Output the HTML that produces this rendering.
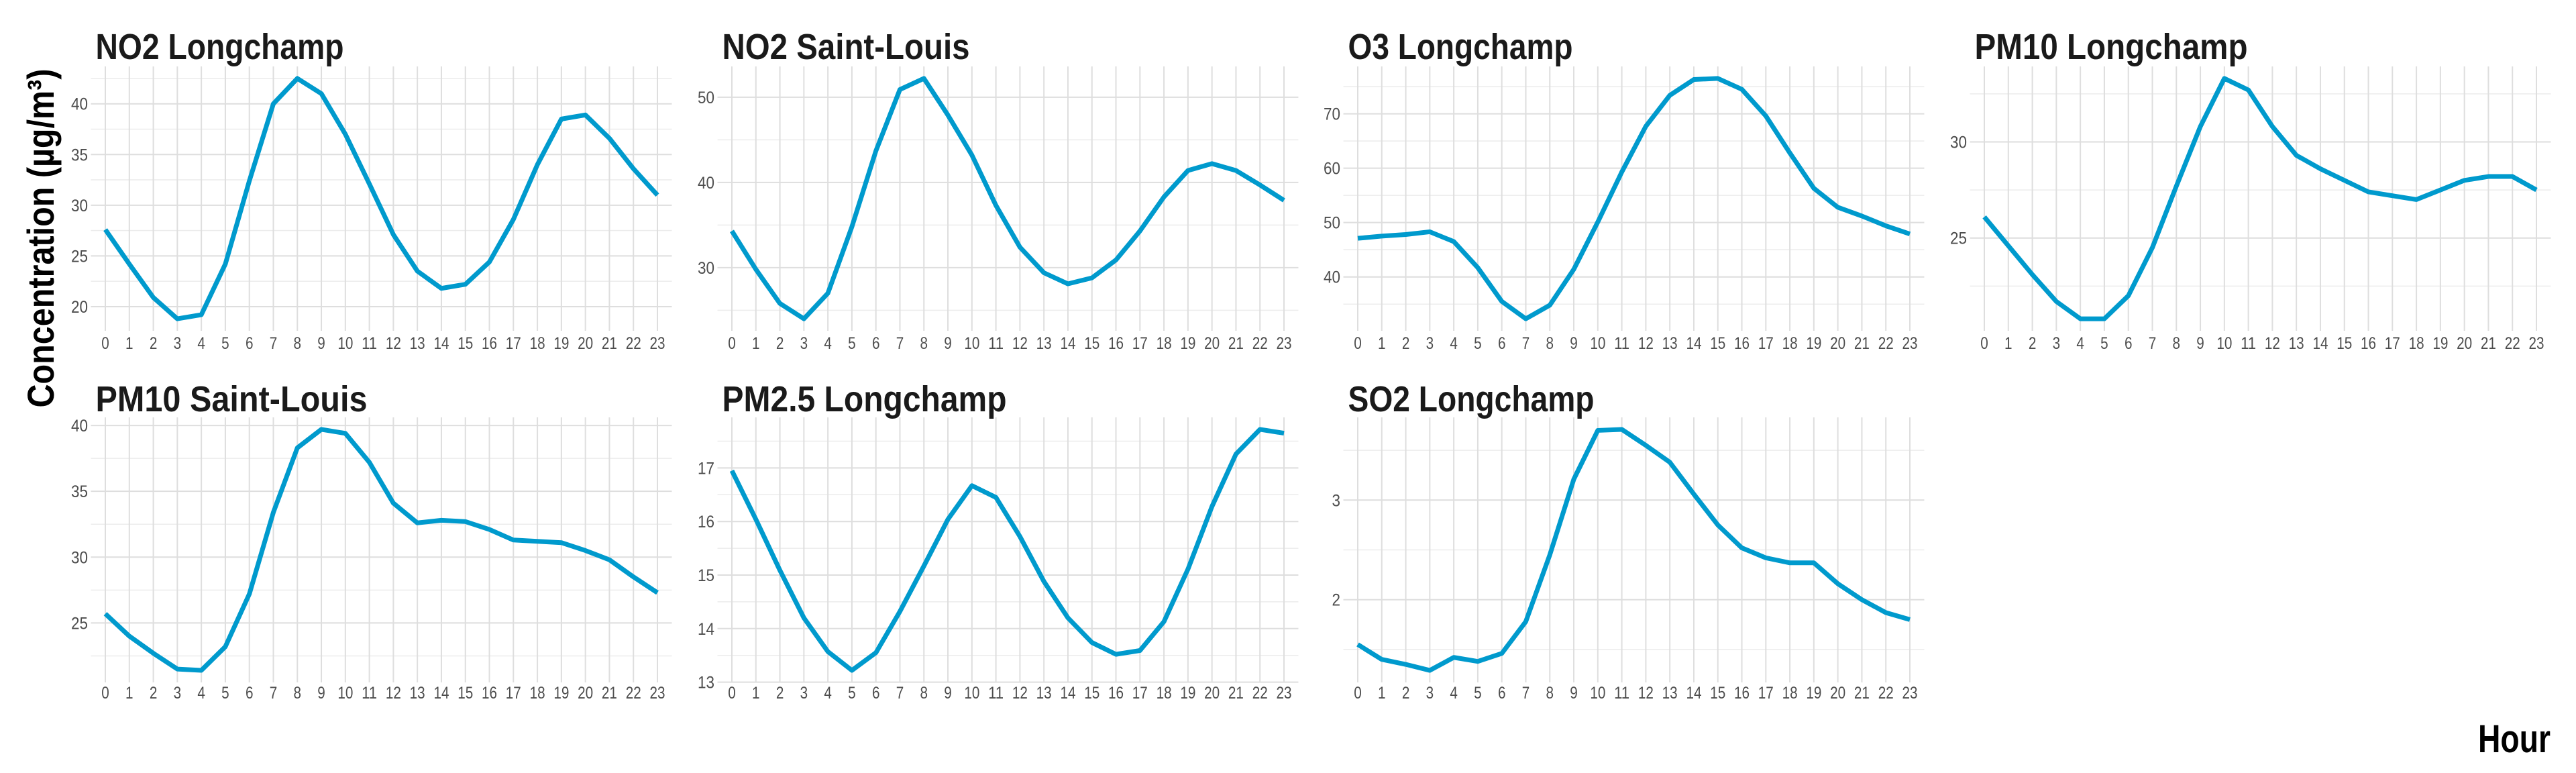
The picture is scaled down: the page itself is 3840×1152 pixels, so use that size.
<!DOCTYPE html>
<html><head><meta charset="utf-8"><style>
html,body{margin:0;padding:0;background:#fff;width:3840px;height:1152px;overflow:hidden}
svg text{font-family:"Liberation Sans Narrow","Liberation Sans",sans-serif}
</style></head><body>
<svg id="chart" width="3840" height="1152" viewBox="0 0 3840 1152" xmlns="http://www.w3.org/2000/svg">
<text transform="translate(80,355) rotate(-90)" text-anchor="middle" font-size="56" font-weight="bold" textLength="505" lengthAdjust="spacingAndGlyphs" fill="#000" style="font-family:'Liberation Sans',sans-serif">Concentration (µg/m³)</text>
<text x="3694" y="1121" font-size="58" font-weight="bold" textLength="108" lengthAdjust="spacingAndGlyphs" fill="#000">Hour</text>
</svg>
<script>
const hours = [0,1,2,3,4,5,6,7,8,9,10,11,12,13,14,15,16,17,18,19,20,21,22,23];
const no2Longchamp = [27.6,24.2,20.9,18.8,19.2,24.2,32.4,40.0,42.5,41.0,37.0,32.1,27.1,23.5,21.8,22.2,24.4,28.6,34.0,38.5,38.9,36.6,33.6,31.0];
const no2SaintLouis = [34.3,29.8,25.8,24.0,27.0,34.8,43.7,50.9,52.2,47.9,43.2,37.3,32.4,29.4,28.1,28.8,30.9,34.3,38.3,41.4,42.2,41.4,39.7,37.9];
const o3Longchamp = [47.1,47.5,47.8,48.3,46.5,41.7,35.5,32.3,34.8,41.4,50.1,59.3,67.7,73.4,76.3,76.5,74.5,69.6,62.8,56.3,52.8,51.2,49.4,47.9];
const pm10Longchamp = [26.1,24.6,23.1,21.7,20.8,20.8,22.0,24.5,27.7,30.8,33.3,32.7,30.8,29.3,28.6,28.0,27.4,27.2,27.0,27.5,28.0,28.2,28.2,27.5];
const pm10SaintLouis = [25.7,24.0,22.7,21.5,21.4,23.2,27.2,33.4,38.3,39.7,39.4,37.2,34.1,32.6,32.8,32.7,32.1,31.3,31.2,31.1,30.5,29.8,28.5,27.3];
const pm25Longchamp = [16.95,16.04,15.09,14.2,13.57,13.22,13.55,14.32,15.17,16.04,16.67,16.45,15.72,14.88,14.2,13.74,13.52,13.59,14.13,15.11,16.28,17.26,17.72,17.65];
const so2Longchamp = [1.55,1.40,1.35,1.29,1.42,1.38,1.46,1.78,2.45,3.21,3.70,3.71,3.55,3.38,3.06,2.75,2.52,2.42,2.37,2.37,2.16,2.0,1.87,1.80];
const titles = ["NO2 Longchamp","NO2 Saint-Louis","O3 Longchamp","PM10 Longchamp","PM10 Saint-Louis","PM2.5 Longchamp","SO2 Longchamp"];
const seriesList = [no2Longchamp,no2SaintLouis,o3Longchamp,pm10Longchamp,pm10SaintLouis,pm25Longchamp,so2Longchamp];
const tickSteps = [5,10,10,5,5,1,1];

const NS="http://www.w3.org/2000/svg";
const svg=document.getElementById('chart');
const x0s=[157,1091,2024,2958];
const titleW=[370,369,335,407,405,424,367];
const W=823, step=W/23;
function mk(tag,attrs,parent){const e=document.createElementNS(NS,tag);for(const k in attrs)e.setAttribute(k,attrs[k]);parent.appendChild(e);return e;}

seriesList.forEach((vals,i)=>{
  const col=i%4,row=Math.floor(i/4);
  const X0=x0s[col];
  const top=row?622:99, bot=row?1017:493;
  const g=mk('g',{},svg);
  
  
  const mn=Math.min(...vals),mx=Math.max(...vals),r=mx-mn;
  const lo=mn-0.05*r,hi=mx+0.05*r;
  const sx=h=>X0+h*step;
  const sy=v=>bot-(v-lo)/(hi-lo)*(bot-top);
  const left=X0-0.6*step,right=X0+23.6*step;
  const ts=tickSteps[i];
  for(let v=Math.floor(lo/ts)*ts-ts/2; v<=hi; v+=ts){
    if(v<lo) continue;
    const l=mk('line',{x1:left,x2:right,y1:sy(v),y2:sy(v),stroke:'#ececec','stroke-width':1.5},g);
    
    
  }
  hours.forEach(h=>{
    const l=mk('line',{x1:sx(h),x2:sx(h),y1:top,y2:bot,stroke:'#dedede','stroke-width':2},g);
    
    
    const s=String(h);
    const t=mk('text',{x:sx(h),y:(row?1041:520),'text-anchor':'middle','font-size':25,fill:'#4d4d4d',textLength:s.length*11.5,lengthAdjust:'spacingAndGlyphs'},g);
    t.textContent=s;
    
    
  });
  for(let v=Math.ceil(lo/ts)*ts; v<=hi; v+=ts){
    const l=mk('line',{x1:left,x2:right,y1:sy(v),y2:sy(v),stroke:'#dedede','stroke-width':2},g);
    
    
    const s=String(v);
    const t=mk('text',{x:X0-26,y:sy(v)+9,'text-anchor':'end','font-size':25,fill:'#4d4d4d',textLength:s.length*12.5,lengthAdjust:'spacingAndGlyphs'},g);
    t.textContent=s;
    
    
  }
  const p=mk('polyline',{points:vals.map((v,h)=>sx(hours[h])+','+sy(v)).join(' '),fill:'none',stroke:'#009ACD','stroke-width':7,'stroke-linejoin':'round'},g);
  
  
  const t=mk('text',{x:left+7,y:(row?613:88),'font-size':54,'font-weight':'bold',fill:'#1a1a1a',textLength:titleW[i],lengthAdjust:'spacingAndGlyphs'},g);
  t.textContent=titles[i];
  
  
});
</script>
</body></html>
